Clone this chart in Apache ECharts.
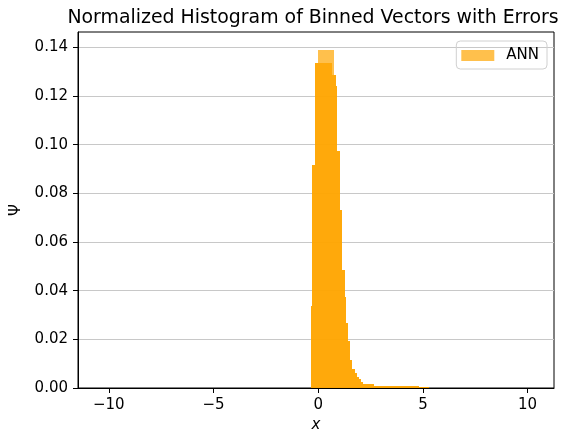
<!DOCTYPE html>
<html>
<head>
<meta charset="utf-8">
<script src="https://cdn.jsdelivr.net/npm/echarts@6/dist/echarts.min.js"></script>
<style>
  html, body { margin: 0; padding: 0; background: #fff; }
  #chart { width: 569px; height: 429px; }
</style>
</head>
<body>
<div id="chart"></div>
<script>
// histogram bins: left edge, right edge, height
var binLeft = [-0.35, -0.28, -0.13, -0.03, 0.66, 0.76, 0.86, 0.916, 1.044, 1.139, 1.262, 1.31, 1.424, 1.519, 1.628, 1.737, 1.832, 1.927, 2.022, 2.15, 2.686, 4.822];
var binRight = [-0.28, -0.13, -0.03, 0.66, 0.76, 0.86, 0.916, 1.044, 1.139, 1.262, 1.31, 1.424, 1.519, 1.628, 1.737, 1.832, 1.927, 2.022, 2.15, 2.686, 4.822, 5.297];
// outer envelope (single translucent layer shows at the very top of the peak)
var annOuter = [0.0335, 0.0918, 0.1336, 0.139, 0.139, 0.1288, 0.124, 0.0972, 0.0733, 0.0486, 0.0376, 0.0267, 0.0192, 0.0116, 0.0078, 0.006, 0.0045, 0.0035, 0.0024, 0.0016, 0.0008, 0.0003];
// overlapping inner layer
var annInner = [0.0335, 0.0918, 0.1336, 0.1336, 0.1288, 0.1288, 0.124, 0.0972, 0.0733, 0.0486, 0.0376, 0.0267, 0.0192, 0.0116, 0.0078, 0.006, 0.0045, 0.0035, 0.0024, 0.0016, 0.0008, 0.0003];

var xTicks = [-10, -5, 0, 5, 10];
var yTicks = [0, 0.02, 0.04, 0.06, 0.08, 0.1, 0.12, 0.14];

var fontFamily = 'DejaVu Sans';
var barColor = 'rgba(255,165,0,0.7)';

function toBins(heights) {
    var out = [];
    for (var i = 0; i < heights.length; i++) {
        out.push([binLeft[i], binRight[i], heights[i]]);
    }
    return out;
}

function makeRenderer(fill) {
    return function (params, api) {
        var p0 = api.coord([api.value(0), 0]);
        var p1 = api.coord([api.value(1), api.value(2)]);
        // snap to whole pixels so neighbouring bins don't leave seams
        var x0 = Math.round(p0[0]), x1 = Math.round(p1[0]);
        var y0 = Math.round(p0[1]), y1 = Math.round(p1[1]);
        return {
            type: 'rect',
            shape: {x: x0, y: y1, width: x1 - x0, height: y0 - y1},
            style: {fill: fill}
        };
    };
}

var chart = echarts.init(document.getElementById('chart'), null, {renderer: 'canvas'});

var option = {
    animation: false,
    backgroundColor: '#fff',
    textStyle: {fontFamily: fontFamily},
    title: {
        text: 'Normalized Histogram of Binned Vectors with Errors',
        left: 308,
        textAlign: 'center',
        top: 4,
        textStyle: {fontFamily: fontFamily, fontSize: 18.9, fontWeight: 'normal', color: '#000'}
    },
    legend: {
        data: [{name: 'ANN', itemStyle: {color: barColor}}],
        right: 22,
        top: 41,
        icon: 'rect',
        itemWidth: 33,
        itemHeight: 11,
        padding: [7, 8, 6, 5],
        borderColor: '#d0d0d0',
        borderWidth: 1,
        borderRadius: 4,
        textStyle: {fontFamily: fontFamily, fontSize: 15, color: '#000', padding: [0, 0, 0, 7]}
    },
    grid: {
        left: 78, right: 15, top: 32, bottom: 41,
        show: true, borderColor: '#000', borderWidth: 1,
        containLabel: false,
        outerBoundsMode: 'none'
    },
    xAxis: {
        type: 'value',
        min: -11.47,
        max: 11.26,
        name: 'x',
        nameLocation: 'middle',
        nameGap: 29,
        nameTextStyle: {fontFamily: fontFamily, fontSize: 15, fontStyle: 'italic', color: '#000'},
        axisLine: {show: true, onZero: false, lineStyle: {color: '#000', width: 1}},
        axisTick: {show: true, length: 5, lineStyle: {color: '#000'}, customValues: xTicks},
        axisLabel: {
            color: '#000', fontSize: 15, margin: 10, customValues: xTicks,
            formatter: function (v) { return String(v).replace('-', '\u2212'); }
        },
        splitLine: {show: false}
    },
    yAxis: {
        type: 'value',
        min: 0,
        max: 0.1463,
        name: '\u03a8',
        nameLocation: 'middle',
        nameRotate: 90,
        nameGap: 51,
        nameTextStyle: {fontFamily: fontFamily, fontSize: 15, color: '#000'},
        axisLine: {show: true, onZero: false, lineStyle: {color: '#000', width: 1}},
        axisTick: {show: true, length: 5, lineStyle: {color: '#000'}, customValues: yTicks},
        axisLabel: {
            color: '#000', fontSize: 15, margin: 10, customValues: yTicks,
            formatter: function (v) { return v.toFixed(2); }
        },
        splitLine: {show: true, lineStyle: {color: '#c8c8c8', width: 1}}
    },
    series: [
        {
            name: 'inner',
            type: 'custom',
            renderItem: makeRenderer('rgba(255,165,0,0.85)'),
            encode: {x: [0, 1], y: 2},
            itemStyle: {color: '#ffa500'},
            data: toBins(annInner),
            z: 3
        },
        {
            name: 'ANN',
            type: 'custom',
            renderItem: makeRenderer(barColor),
            encode: {x: [0, 1], y: 2},
            itemStyle: {color: barColor},
            data: toBins(annOuter),
            z: 4
        }
    ]
};

chart.setOption(option);
</script>
</body>
</html>
